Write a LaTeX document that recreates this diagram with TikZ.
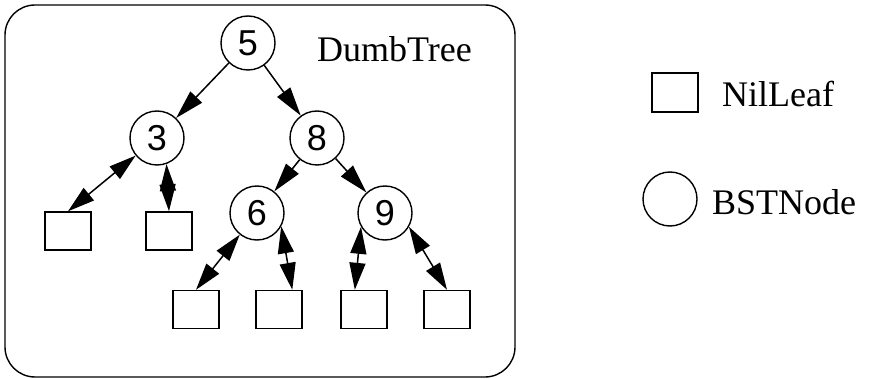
\documentclass[tikz,border=0pt]{standalone}
\usepackage{fontspec}
\setmainfont{Liberation Serif}
\newfontfamily\numfont{Liberation Sans}
\usetikzlibrary{arrows.meta}
\tikzset{
  bst/.style={circle,draw,line width=1.4pt,minimum size=54pt,inner sep=0pt,
    font=\numfont\fontsize{36}{40}\selectfont},
  nil/.style={rectangle,draw,line width=1.4pt,minimum width=46pt,minimum height=38pt,inner sep=0pt},
  lbl/.style={font=\fontsize{36}{40}\selectfont,inner sep=0pt},
  edge/.style={line width=1.5pt,-{Triangle[length=29pt,width=16pt]}},
  dedge/.style={line width=1.5pt,{Triangle[length=27pt,width=16pt]}-{Triangle[length=27pt,width=16pt]}}
}
\begin{document}
\begin{tikzpicture}[x=1pt,y=-1pt]
\useasboundingbox (0,0) rectangle (875,379);
\draw[line width=1.4pt,rounded corners=30pt] (5,5) rectangle (515,377);
\node[lbl,anchor=base west] (title) at (317,62) {DumbTree};
\node[bst] (c5) at (248,43) {5};
\node[bst] (c3) at (157,138) {3};
\node[bst] (c8) at (317,138) {8};
\node[bst] (c6) at (257,213) {6};
\node[bst] (c9) at (385,213) {9};
\node[nil] (l1) at (68,231) {};
\node[nil] (l2) at (169,231) {};
\node[nil] (l3) at (196,309.5) {};
\node[nil] (l4) at (279,309.5) {};
\node[nil] (l5) at (364,309.5) {};
\node[nil] (l6) at (447,309.5) {};
\draw[edge] (c5) -- (c3);
\draw[edge] (c5) -- (c8);
\draw[edge] (c8) -- (c6);
\draw[edge] (c8) -- (c9);
\draw[dedge] (c3) -- (l1.north);
\draw[dedge] (c3.-70) -- (l2.north);
\draw[dedge] (c6) -- (l3.north);
\draw[dedge] (c6.-29) -- (l4.56);
\draw[dedge] (c9.210) -- (l5.115);
\draw[dedge] (c9.-30) -- (l6.north);
\node[nil,minimum height=39pt] (lnil) at (675,92.5) {};
\node[lbl,anchor=base west] (tnil) at (722,107) {NilLeaf};
\node[bst] (lbst) at (670,199) {};
\node[lbl,anchor=base west] (tbst) at (712,215) {BSTNode};
\end{tikzpicture}
\end{document}
